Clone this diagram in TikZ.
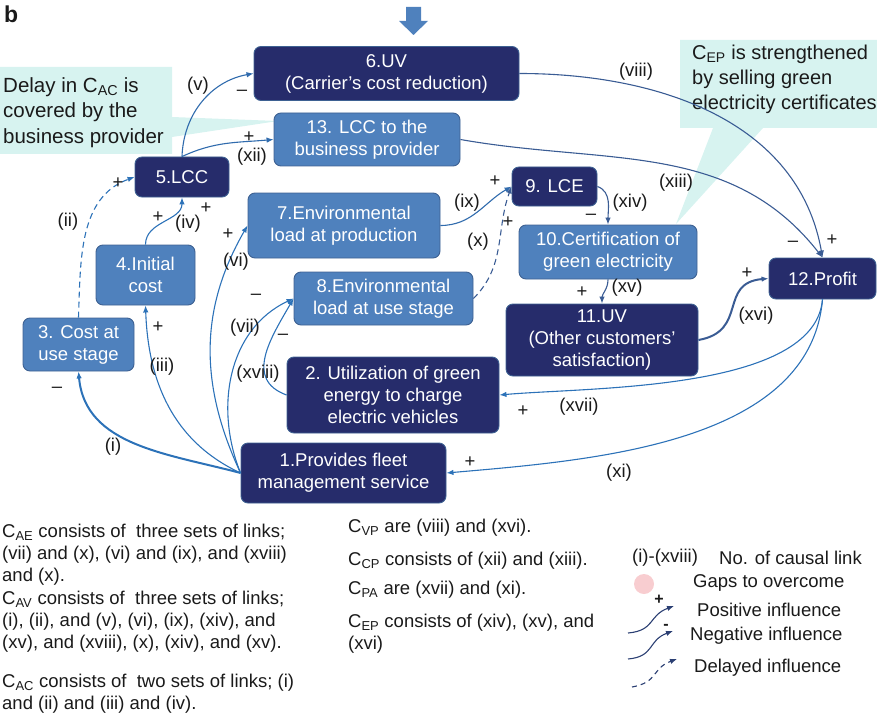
\documentclass[tikz,border=0pt]{standalone}
\usepackage{fontspec}
\setmainfont{Liberation Sans}
\usetikzlibrary{arrows.meta,positioning}
\definecolor{ink}{HTML}{1A1A1A}
\definecolor{navy}{HTML}{262C6B}
\definecolor{midblue}{HTML}{4F81BD}
\definecolor{boxline}{HTML}{3E6192}
\definecolor{linka}{HTML}{2C72B8}
\definecolor{linkb}{HTML}{3A5C94}
\definecolor{legline}{HTML}{2B3F73}
\definecolor{callbg}{HTML}{D7F3F0}
\definecolor{gapfill}{HTML}{F8CDD0}
\tikzset{
  every node/.style={font=\fontsize{18.5}{22}\selectfont, text=ink},
  box/.style={draw=boxline, line width=0.9pt, rounded corners=7pt, align=center,
              inner sep=2pt, fill=midblue, text=white},
  darkbox/.style={box, fill=navy},
  arr/.style={-{Latex[length=7pt, width=5.5pt]}, line width=1.1pt, draw=linkb},
  arrb/.style={arr, draw=linka},
  darr/.style={arr, dashed, dash pattern=on 6pt off 4pt},
  legarr/.style={arr, draw=legline},
  lbl/.style={inner sep=0pt},
  callout/.style={fill=callbg, draw=none},
  note/.style={align=left, anchor=north west, inner sep=0pt},
  legtxt/.style={anchor=west, inner sep=0pt},
}

\begin{document}
\begin{tikzpicture}[x=1pt, y=1pt]
\useasboundingbox (0,0) rectangle (877,-714);

% callouts behind everything
\fill[callout] (0,-67) -- (172,-67) -- (172,-117) -- (278,-121) -- (172,-137)
  -- (172,-154) -- (0,-154) -- cycle;
\fill[callout] (680,-40) -- (877,-40) -- (877,-128) -- (763,-128) -- (676,-224)
  -- (713,-128) -- (680,-128) -- cycle;
\node[note, font=\fontsize{20.5}{25.5}\selectfont] (delay) at (3,-77)
  {Delay in C\textsubscript{AC} is\\covered by the\\business provider};
\node[note, font=\fontsize{20}{25}\selectfont] (cep) at (692,-45)
  {C\textsubscript{EP} is strengthened\\by selling green\\electricity certificates};

\node[anchor=north west, inner sep=0pt, font=\fontsize{23}{26}\selectfont\bfseries] (panel) at (4,-6) {b};
\fill[midblue] (406,-7) -- (421,-7) -- (421,-21) -- (428,-21) -- (413.5,-35)
  -- (399,-21) -- (406,-21) -- cycle;

% boxes
\node[darkbox, minimum width=265, minimum height=54] (uv) at (386.5,-73.5) {6.UV\\(Carrier’s cost reduction)};
\node[box, minimum width=186, minimum height=53] (lccbp) at (367,-139.5) {13. LCC to the\\business provider};
\node[darkbox, minimum width=94, minimum height=40] (lcc) at (182,-177) {5.LCC};
\node[box, minimum width=192, minimum height=65] (envprod) at (344,-225.5) {7.Environmental\\load at production};
\node[box, minimum width=99, minimum height=60] (init) at (145.5,-275) {4.Initial\\cost};
\node[box, minimum width=111, minimum height=53] (usecost) at (78.5,-344.5) {3. Cost at\\use stage};
\node[box, minimum width=179, minimum height=53] (envuse) at (383.5,-298.5) {8.Environmental\\load at use stage};
\node[darkbox, minimum width=212, minimum height=76] (green) at (393,-395) {2. Utilization of green\\energy to charge\\electric vehicles};
\node[darkbox, minimum width=205, minimum height=60] (fleet) at (343.5,-473) {1.Provides fleet\\management service};
\node[darkbox, minimum width=85, minimum height=39] (lce) at (554.5,-186.5) {9. LCE};
\node[box, minimum width=178, minimum height=54] (cert) at (608,-252) {10.Certification of\\green electricity};
\node[darkbox, minimum width=192, minimum height=72] (uvo) at (602,-340) {11.UV\\(Other customers’\\satisfaction)};
\node[darkbox, minimum width=107, minimum height=41] (profit) at (822.5,-278.5) {12.Profit};

% causal links
\draw[arrb, line width=2pt] (fleet.west) to[out=165, in=-85] (usecost.south);
\draw[darr, draw=linka] (usecost.north) to[out=88, in=200] (lcc.west);
\draw[arrb] (fleet.west) to[out=155, in=-88] (init.south);
\draw[arrb] (init.north) to[out=90, in=-90] (lcc.south);
\draw[arr, draw=linka!70!linkb] (lcc.north) to[out=88, in=190] (uv.west);
\draw[arr, draw=linka!70!linkb] (lcc.north) to[out=25, in=185] (lccbp.west);
\draw[arrb] (fleet.west) to[out=115, in=240] (envprod.west);
\draw[arrb] (fleet.west) to[out=112, in=205] (envuse.west);
\draw[arrb] (green.west) to[out=160, in=240, looseness=1.2] (envuse.west);
\draw[arr] (uv.east) to[out=0, in=100] (profit.north);
\draw[arr] (lccbp.east) to[out=-10, in=128] (profit.north);
\draw[arr, draw=linka!70!linkb] (envprod.east) to[out=0, in=210] (lce.west);
\draw[darr] (envuse.east) to[out=45, in=250] (lce.west);
\draw[arr] (lce.east) to[out=-20, in=90] (cert.north);
\draw[arr] (cert.south) to[out=-90, in=90] (uvo.north);
\draw[arr, line width=2pt] (uvo.east) to[out=10, in=185, looseness=1.4] (profit.west);
\draw[arrb] (profit.south) to[out=-95, in=5, looseness=0.7] (green.east);
\draw[arrb] (profit.south) to[out=-95, in=5, looseness=0.9] (fleet.east);

% link numbers and signs
\node[lbl] (ni) at (113,-447) {(i)};
\node[lbl] (si) at (57,-390) {\textendash};
\node[lbl] (nii) at (68,-222) {(ii)};
\node[lbl] (sii) at (118,-183) {+};
\node[lbl] (niii) at (162,-367) {(iii)};
\node[lbl] (siii) at (158,-327) {+};
\node[lbl] (niv) at (188,-224) {(iv)};
\node[lbl] (siv) at (158,-217) {+};
\node[lbl] (sivb) at (206,-208) {+};
\node[lbl] (nv) at (198,-86) {(v)};
\node[lbl] (sv) at (242,-93) {\textendash};
\node[lbl] (nxii) at (252,-157) {(xii)};
\node[lbl] (sxii) at (249,-137) {+};
\node[lbl] (nvi) at (236,-262) {(vi)};
\node[lbl] (svi) at (228,-234) {+};
\node[lbl] (nvii) at (245,-328) {(vii)};
\node[lbl] (svii) at (256,-297) {\textendash};
\node[lbl] (nxviii) at (258,-374) {(xviii)};
\node[lbl] (sxviii) at (283,-337) {\textendash};
\node[lbl] (nviii) at (636,-72) {(viii)};
\node[lbl] (sviii) at (832,-240) {+};
\node[lbl] (nxiii) at (676,-183) {(xiii)};
\node[lbl] (sxiii) at (793,-244) {\textendash};
\node[lbl] (nix) at (467,-203) {(ix)};
\node[lbl] (six) at (495,-181) {+};
\node[lbl] (nx) at (478,-242) {(x)};
\node[lbl] (sx) at (508,-222) {+};
\node[lbl] (nxiv) at (630,-203) {(xiv)};
\node[lbl] (sxiv) at (591,-217) {\textendash};
\node[lbl] (nxv) at (627,-288) {(xv)};
\node[lbl] (sxv) at (582,-292) {+};
\node[lbl] (nxvi) at (756,-316) {(xvi)};
\node[lbl] (sxvi) at (747,-273) {+};
\node[lbl] (nxvii) at (579,-407) {(xvii)};
\node[lbl] (sxvii) at (523,-411) {+};
\node[lbl] (nxi) at (619,-473) {(xi)};
\node[lbl] (sxi) at (470,-462) {+};

% notes below
\node[note] (cae) at (2,-524) {C\textsubscript{AE} consists of\ \ three sets of links;\\(vii) and (x), (vi) and (ix), and (xviii)\\and (x).};
\node[note] (cav) at (2,-591) {C\textsubscript{AV} consists of\ \ three sets of links;\\(i), (ii), and (v), (vi), (ix), (xiv), and\\(xv), and (xviii), (x), (xiv), and (xv).};
\node[note] (cac) at (2,-674) {C\textsubscript{AC} consists of\ \ two sets of links; (i)\\and (ii) and (iii) and (iv).};
\node[note] (cvp) at (348,-519) {C\textsubscript{VP} are (viii) and (xvi).};
\node[note] (ccp) at (348,-552) {C\textsubscript{CP} consists of (xii) and (xiii).};
\node[note] (cpa) at (348,-581) {C\textsubscript{PA} are (xvii) and (xi).};
\node[note] (cepl) at (348,-614) {C\textsubscript{EP} consists of (xiv), (xv), and\\(xvi)};

% legend
\node[legtxt] (legno) at (632,-558) {(i)-(xviii)};
\node[legtxt] (legnotxt) at (719,-558) {No. of causal link};
\node[circle, fill=gapfill, minimum size=20, inner sep=0pt] (gapdot) at (644,-584) {};
\node[legtxt] (leggap) at (693,-583) {Gaps to overcome};
\node[legtxt] (legpos) at (697,-610) {Positive influence};
\node[legtxt] (legneg) at (690,-636) {Negative influence};
\node[legtxt] (legdel) at (694,-668) {Delayed influence};
\coordinate (posa) at (628,-633);
\coordinate (posb) at (674,-606);
\coordinate (nega) at (628,-659);
\coordinate (negb) at (673,-631);
\coordinate (dela) at (632,-687);
\coordinate (delb) at (677,-659);
\draw[legarr] (posa) to[out=5, in=200, looseness=1.3] (posb);
\draw[legarr] (nega) to[out=5, in=200, looseness=1.3] (negb);
\draw[legarr, dashed, dash pattern=on 5pt off 4pt] (dela) to[out=10, in=200, looseness=1.3] (delb);
\node[lbl, font=\fontsize{16}{18}\selectfont\bfseries] (legplus) at (659,-600) {+};
\node[lbl, font=\fontsize{16}{18}\selectfont\bfseries] (legminus) at (666,-627) {-};

\end{tikzpicture}
\end{document}
